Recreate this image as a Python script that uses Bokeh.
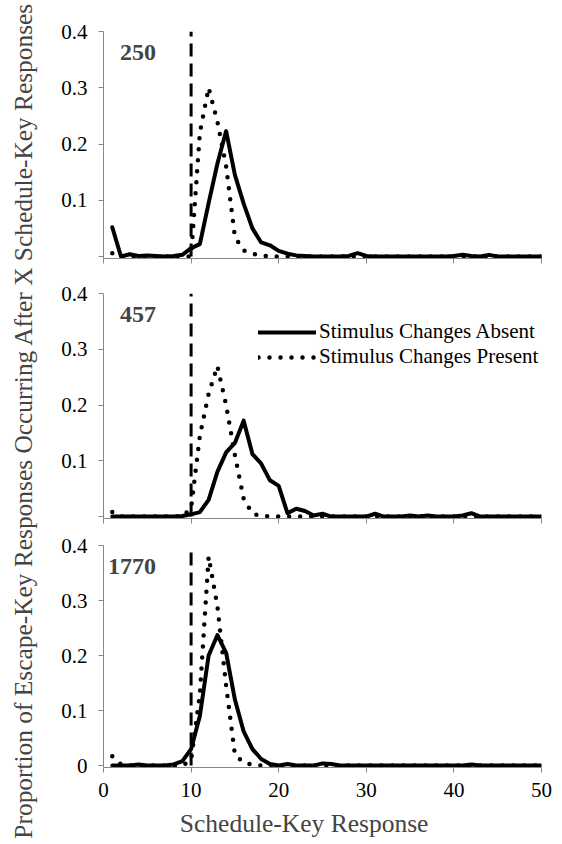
from bokeh.plotting import figure
from bokeh.layouts import row, column
from bokeh.models import Range1d, FixedTicker, Label, Legend, LegendItem
from bokeh.embed import file_html
from bokeh.resources import INLINE

# ---------------- data ----------------
x_resp = list(range(1, 51))

absent_250 = [0.052, 0.0, 0.004, 0.001, 0.002, 0.001, 0.0, 0.001, 0.003, 0.015,
              0.022, 0.095, 0.165, 0.223, 0.145, 0.094, 0.05, 0.025, 0.02, 0.01,
              0.005, 0.002, 0.001, 0.0, 0.0, 0.0, 0.0, 0.001, 0.006, 0.001,
              0.0, 0.0, 0.0, 0.0, 0.0, 0.0, 0.0, 0.0, 0.0, 0.001,
              0.003, 0.001, 0.0, 0.003, 0.0, 0.0, 0.0, 0.0, 0.0, 0.0]
present_250 = [0.006, 0.0, 0.0, 0.0, 0.0, 0.0, 0.0, 0.0, 0.0, 0.0,
               0.22, 0.30, 0.24, 0.16, 0.035, 0.011, 0.005, 0.002, 0.0, 0.0,
               0.0, 0.0, 0.0, 0.0, 0.0, 0.0, 0.0, 0.0, 0.0, 0.0,
               0.0, 0.0, 0.0, 0.0, 0.0, 0.0, 0.0, 0.0, 0.0, 0.0,
               0.0, 0.0, 0.0, 0.0, 0.0, 0.0, 0.0, 0.0, 0.0, 0.0]

absent_457 = [0.0, 0.0, 0.0, 0.0, 0.0, 0.0, 0.0, 0.0, 0.001, 0.004,
              0.008, 0.03, 0.08, 0.115, 0.132, 0.172, 0.112, 0.095, 0.065, 0.055,
              0.006, 0.014, 0.01, 0.002, 0.005, 0.0, 0.0, 0.0, 0.0, 0.0,
              0.005, 0.0, 0.0, 0.0, 0.002, 0.0, 0.002, 0.0, 0.0, 0.0,
              0.002, 0.006, 0.0, 0.0, 0.0, 0.0, 0.0, 0.0, 0.0, 0.0]
present_457 = [0.008, 0.0, 0.0, 0.0, 0.0, 0.0, 0.0, 0.0, 0.0, 0.015,
               0.145, 0.22, 0.27, 0.20, 0.11, 0.032, 0.005, 0.001, 0.0, 0.0,
               0.0, 0.0, 0.0, 0.0, 0.0, 0.0, 0.0, 0.0, 0.0, 0.0,
               0.0, 0.0, 0.0, 0.0, 0.0, 0.0, 0.0, 0.0, 0.0, 0.0,
               0.0, 0.0, 0.0, 0.0, 0.0, 0.0, 0.0, 0.0, 0.0, 0.0]

absent_1770 = [0.0, 0.0, 0.0, 0.002, 0.0, 0.0, 0.0, 0.002, 0.008, 0.03,
               0.09, 0.20, 0.237, 0.205, 0.12, 0.062, 0.03, 0.012, 0.003, 0.0,
               0.003, 0.0, 0.0, 0.0, 0.004, 0.003, 0.0, 0.0, 0.0, 0.0,
               0.0, 0.0, 0.0, 0.0, 0.0, 0.0, 0.0, 0.0, 0.0, 0.0,
               0.0, 0.002, 0.0, 0.0, 0.0, 0.0, 0.0, 0.0, 0.0, 0.0]
present_1770 = [0.017, 0.002, 0.0, 0.0, 0.0, 0.0, 0.0, 0.0, 0.0, 0.01,
                0.13, 0.38, 0.29, 0.145, 0.02, 0.005, 0.002, 0.0, 0.0, 0.0,
                0.0, 0.0, 0.0, 0.0, 0.0, 0.0, 0.0, 0.0, 0.0, 0.0,
                0.0, 0.0, 0.0, 0.0, 0.0, 0.0, 0.0, 0.0, 0.0, 0.0,
                0.0, 0.0, 0.0, 0.0, 0.0, 0.0, 0.0, 0.0, 0.0, 0.0]

panel_tags = ["250", "457", "1770"]
criterion = 10
x_ticks = [0, 10, 20, 30, 40, 50]
y_ticks = [0, 0.1, 0.2, 0.3, 0.4]
y_tick_labels = ["0", "0.1", "0.2", "0.3", "0.4"]
legend_labels = ["Stimulus Changes Absent", "Stimulus Changes Present"]
x_title = "Schedule-Key Response"
y_title = "Proportion of Escape-Key Responses Occurring After X Schedule-Key Responses"

# ---------------- style ----------------
FONT = "Liberation Serif"
AX = "#878787"
Y0 = -0.0035
BL, BR = 63, 21   # left / right borders shared by every strip of the column


def style_axis(ax):
    ax.axis_line_color = AX
    ax.major_tick_line_color = AX
    ax.minor_tick_line_color = AX
    ax.major_tick_in = 0
    ax.minor_tick_in = 0
    ax.major_tick_out = 5
    ax.minor_tick_out = 5
    ax.major_label_text_font = FONT
    ax.major_label_text_font_size = "21px"
    ax.major_label_text_color = "black"


def panel(absent, present, tag, height, top, bottom, last, legend):
    p = figure(width=522, height=height, x_range=Range1d(0, 50), y_range=Range1d(Y0, 0.4),
               min_border_left=BL, min_border_right=BR, min_border_top=top,
               min_border_bottom=bottom, output_backend="svg", toolbar_location=None,
               outline_line_color=None)
    p.grid.visible = False
    style_axis(p.xaxis[0])
    style_axis(p.yaxis[0])
    p.yaxis.major_label_standoff = 11
    if last:
        p.xaxis.ticker = FixedTicker(ticks=x_ticks, minor_ticks=[])
        p.yaxis.ticker = FixedTicker(ticks=y_ticks, minor_ticks=[])
        p.xaxis.major_label_standoff = 10
        p.yaxis.major_label_overrides = {t: l for t, l in zip(y_ticks, y_tick_labels)}
    else:
        # unlabeled tick marks drawn as minor ticks
        p.xaxis.ticker = FixedTicker(ticks=[], minor_ticks=x_ticks)
        p.xaxis.major_label_standoff = 0
        p.yaxis.ticker = FixedTicker(ticks=y_ticks[1:], minor_ticks=y_ticks[:1])
        p.yaxis.major_label_overrides = {t: l for t, l in zip(y_ticks[1:], y_tick_labels[1:])}

    p.segment(x0=[criterion], y0=[0], x1=[criterion], y1=[0.4],
              line_color="black", line_width=3, line_dash="13 7")
    r_abs = p.line(x_resp, absent, line_color="black", line_width=4,
                   line_join="round", line_cap="round")
    r_pre = p.line(x_resp, present, line_color="black", line_width=4.5,
                   line_dash="0 11", line_cap="round", line_join="round")

    p.add_layout(Label(x=6.0, y=0.362, text=tag, text_align="right",
                       text_baseline="alphabetic", text_font=FONT,
                       text_font_style="bold", text_font_size="24px"))
    if legend:
        lg = Legend(items=[LegendItem(label=legend_labels[0], renderers=[r_abs]),
                           LegendItem(label=legend_labels[1], renderers=[r_pre])],
                    location=(155, 149), padding=0, margin=0, spacing=-6,
                    border_line_color=None, background_fill_alpha=0,
                    glyph_width=58, glyph_height=22, label_height=22,
                    label_standoff=3, label_text_font=FONT,
                    label_text_font_size="21px", label_text_color="black")
        p.add_layout(lg)
    return p


f1 = panel(absent_250, present_250, panel_tags[0], 266, 31, 8, False, False)
f2 = panel(absent_457, present_457, panel_tags[1], 260, 27, 8, False, True)
f3 = panel(absent_1770, present_1770, panel_tags[2], 281, 19, 40, True, False)

# strip under the bottom panel holding the x title (same x frame as the panels)
f4 = figure(width=522, height=37, x_range=Range1d(0, 50), y_range=Range1d(0, 37),
            min_border_left=BL, min_border_right=BR, min_border_top=0, min_border_bottom=0,
            x_axis_location=None, y_axis_location=None, outline_line_color=None,
            toolbar_location=None, output_backend="svg")
f4.grid.visible = False
f4.add_layout(Label(x=22.9, y=21, text=x_title, text_align="center",
                    text_baseline="middle", text_font=FONT, text_font_size="25.5px"))

lab = figure(width=40, height=844, x_range=Range1d(0, 40), y_range=Range1d(0, 844),
             min_border=0, x_axis_location=None, y_axis_location=None,
             outline_line_color=None, toolbar_location=None, output_backend="svg")
lab.grid.visible = False
lab.add_layout(Label(x=22, y=424, text=y_title, angle=90, angle_units="deg",
                     text_align="center", text_baseline="alphabetic",
                     text_font=FONT, text_font_size="25.4px"))

layout = row(lab, column(f1, f2, f3, f4))
open("out.html", "w").write(file_html(layout, INLINE))
